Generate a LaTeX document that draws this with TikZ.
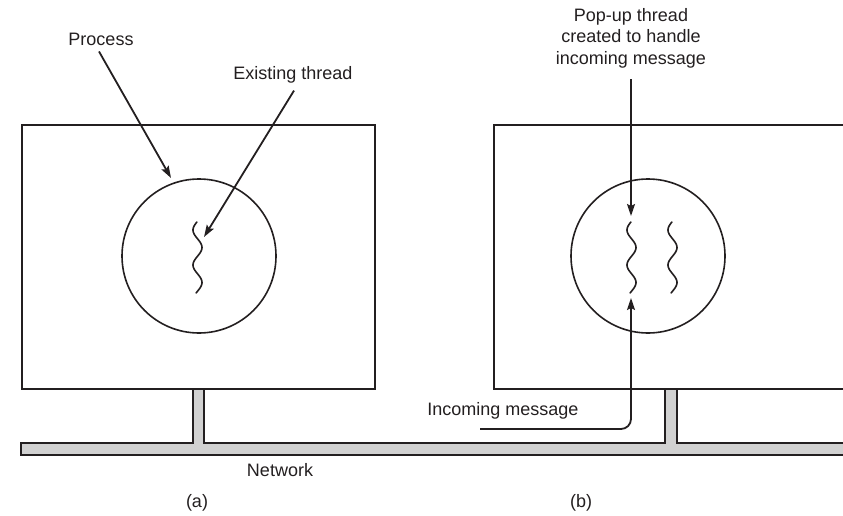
\documentclass[tikz,border=0pt]{standalone}
\usepackage{fontspec}
\setmainfont{Liberation Sans}
\usepackage{tikz}
\usetikzlibrary{arrows.meta}
\tikzset{>={Stealth[length=12pt,width=8pt,inset=2pt]}}
\usepackage{xcolor}
\definecolor{ink}{RGB}{35,31,32}
\colorlet{netgray}{black!18}
\tikzset{
  lbl/.style={font=\fontsize{18}{21.5}\selectfont,text=ink,inner sep=0pt},
  machine/.style={draw=ink,line width=1.6pt},
  proc/.style={circle,draw=ink,line width=1.6pt,minimum size=154pt,inner sep=0pt},
  ptr/.style={->,draw=ink,line width=1.8pt},
  thread/.style={draw=ink,line width=1.6pt,line cap=round},
}

\begin{document}
\begin{tikzpicture}[x=1pt,y=-1pt]
        \useasboundingbox (0,0) rectangle (843,516);

        \def\thread#1{\draw[thread] plot[domain=0:71,samples=60,smooth] ({#1+0.5-4.5*cos((\x-8)/35*360)},{222+\x});}

        % COORDINATES
        \coordinate (procTip) at (171,178);
        \coordinate (exTip) at (204,237);
        \coordinate (popTip) at (631,216);
        \coordinate (inStart) at (480,429);
        \coordinate (inTip) at (631,298);

        % MACHINES
        \draw[machine] (22,125) rectangle (375,389);
        \draw[machine] (843,125) -- (494,125) -- (494,389) -- (843,389);

        % NETWORK
        \filldraw[fill=netgray,draw=ink,line width=1.4pt] (843,443) -- (677,443) -- (677,389) -- (665,389) -- (665,443)
          -- (204,443) -- (204,389) -- (193,389) -- (193,443) -- (21,443) -- (21,455) -- (843,455);

        % PROCESSES
        \node[proc] (procA) at (199,256) {};
        \node[proc] (procB) at (648,256) {};

        % THREADS
        \thread{197}
        \thread{631}
        \thread{672}

        % LABELS
        \node[lbl] (process) at (101,39) {Process};
        \node[lbl] (existing) at (293,75) {Existing thread};
        \node[lbl,align=center] (popup) at (631,38) {Pop-up thread\\created to handle\\incoming message};
        \node[lbl] (incoming) at (503,411) {Incoming message};
        \node[lbl] (network) at (280,470) {Network};
        \node[lbl] (capA) at (197,503) {(a)};
        \node[lbl] (capB) at (581,503) {(b)};

        % ARROWS
        \draw[ptr] (process.south) ++(-2,6) -- (procTip);
        \draw[ptr] (existing.south) ++(1,7) -- (exTip);
        \draw[ptr] (popup.south) ++(0,11) -- (popTip);
        \draw[ptr,rounded corners=10pt] (inStart) -| (inTip);

\end{tikzpicture}
\end{document}
